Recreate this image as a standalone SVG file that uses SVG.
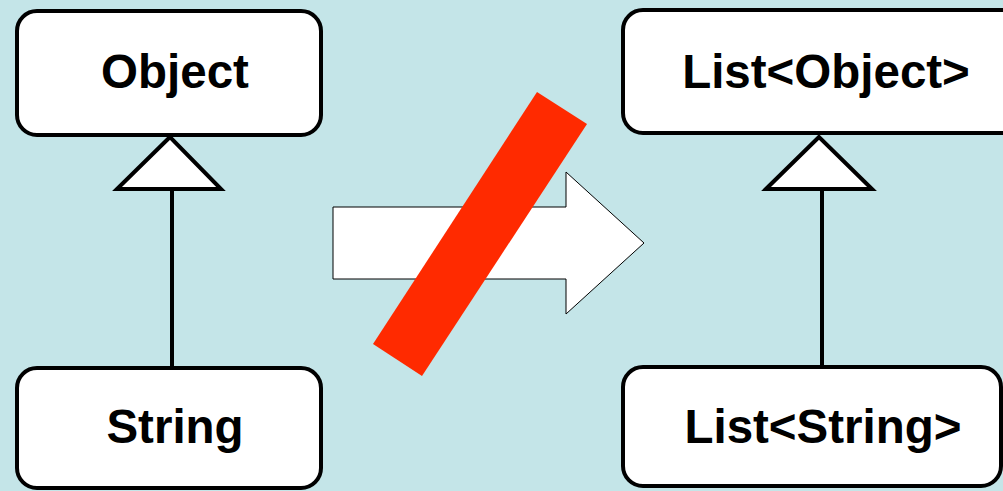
<svg xmlns="http://www.w3.org/2000/svg" width="1003" height="491" viewBox="0 0 1003 491">
<style>
.box{fill:#fff;stroke:#000;stroke-width:4}
.lbl{font-family:"Liberation Sans",Arial,sans-serif;font-weight:bold;font-size:47.5px;fill:#000;text-anchor:middle}
.tri{fill:#fff;stroke:#000;stroke-width:4;stroke-linejoin:miter}
.ln{stroke:#000;stroke-width:4;fill:none}
</style>
<rect x="0" y="0" width="1003" height="491" fill="#C4E5E8"/>
<g id="connectors">
<line class="ln" x1="172" y1="190" x2="172" y2="368"/>
<polygon class="tri" points="170,137 117,189 221,189"/>
<line class="ln" x1="822" y1="190" x2="822" y2="368"/>
<polygon class="tri" points="819,137 766,189 872,189"/>
</g>
<g id="object">
<rect class="box" x="17" y="11" width="304" height="124" rx="20"/>
<text class="lbl" x="175" y="88">Object</text>
</g>
<g id="string">
<rect class="box" x="17" y="368" width="304" height="120" rx="20"/>
<text class="lbl" x="175" y="443">String</text>
</g>
<g id="listobject">
<rect class="box" x="623" y="10" width="400" height="123" rx="20"/>
<text class="lbl" x="826" y="88">List&lt;Object&gt;</text>
</g>
<g id="liststring">
<rect class="box" x="623" y="367" width="378" height="119" rx="20"/>
<text class="lbl" x="823" y="443">List&lt;String&gt;</text>
</g>
<g id="arrow">
<polygon points="333,207 566,207 566,172 644,243 566,314 566,279 333,279" fill="#fff" stroke="#000" stroke-width="1"/>
</g>
<g id="cross">
<polygon points="537,92 587,124 422,376 373,344" fill="#FF2A00"/>
</g>
</svg>
